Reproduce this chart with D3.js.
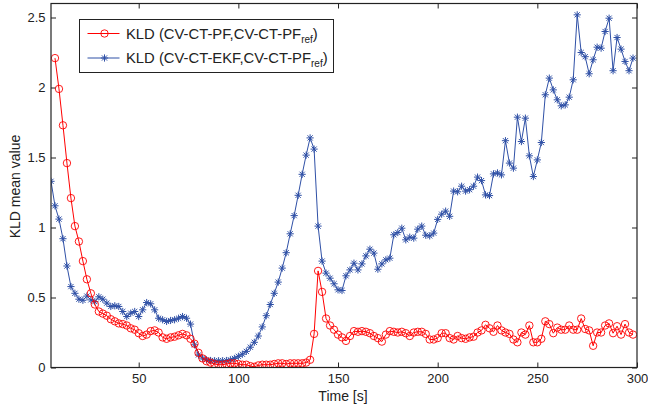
<!DOCTYPE html>
<html>
<head>
<meta charset="utf-8">
<script src="https://cdn.jsdelivr.net/npm/d3@7"></script>
<style>
  body { margin: 0; background: #fff; }
  svg { display: block; font-family: "Liberation Sans", Arial, Helvetica, sans-serif; }
</style>
</head>
<body>
<svg id="chart" width="648" height="406"></svg>
<script>
// sampling grid of the two series (seconds)
const pfTime = d3.range(8, 300, 2);
const ekfTime = d3.range(6, 300, 2);

// KLD (CV-CT-PF, CV-CT-PF_ref)
const pfValues = [
  2.21, 1.99, 1.73, 1.46, 1.21, 1.01, 0.90, 0.76, 0.63, 0.53,
  0.45, 0.40, 0.385, 0.37, 0.345, 0.33, 0.315, 0.31, 0.30, 0.28,
  0.27, 0.245, 0.225, 0.235, 0.26, 0.265, 0.25, 0.215, 0.205, 0.215,
  0.22, 0.23, 0.24, 0.23, 0.205, 0.17, 0.105, 0.065, 0.045, 0.035,
  0.025, 0.02, 0.02, 0.025, 0.03, 0.03, 0.025, 0.02, 0.02, 0.01,
  0.005, 0.015, 0.02, 0.02, 0.02, 0.025, 0.03, 0.03, 0.025, 0.03,
  0.03, 0.03, 0.03, 0.035, 0.055, 0.24, 0.69, 0.54, 0.35, 0.30,
  0.27, 0.235, 0.215, 0.19, 0.225, 0.26, 0.255, 0.26, 0.255, 0.245,
  0.225, 0.21, 0.185, 0.235, 0.26, 0.255, 0.25, 0.255, 0.245, 0.225,
  0.25, 0.255, 0.255, 0.24, 0.2, 0.2, 0.21, 0.245, 0.245, 0.21,
  0.2, 0.225, 0.21, 0.205, 0.215, 0.22, 0.25, 0.265, 0.305, 0.28,
  0.255, 0.3, 0.265, 0.25, 0.24, 0.2, 0.18, 0.25, 0.235, 0.3,
  0.18, 0.18, 0.205, 0.33, 0.31, 0.245, 0.285, 0.27, 0.27, 0.3,
  0.27, 0.27, 0.35, 0.275, 0.265, 0.155, 0.25, 0.25, 0.3, 0.315,
  0.245, 0.295, 0.235, 0.31, 0.25, 0.235
];

// KLD (CV-CT-EKF, CV-CT-PF_ref)
const ekfValues = [
  1.33, 1.155, 1.06, 0.92, 0.725, 0.578, 0.53, 0.488, 0.48, 0.51,
  0.483, 0.47, 0.505, 0.488, 0.46, 0.436, 0.441, 0.436, 0.40, 0.364,
  0.388, 0.40, 0.364, 0.412, 0.464, 0.455, 0.412, 0.352, 0.341, 0.329,
  0.336, 0.341, 0.352, 0.364, 0.352, 0.31, 0.162, 0.09, 0.067, 0.055,
  0.05, 0.048, 0.048, 0.048, 0.05, 0.055, 0.065, 0.08, 0.095, 0.115,
  0.145, 0.18, 0.225, 0.29, 0.37, 0.45, 0.53, 0.61, 0.71, 0.82,
  0.955, 1.085, 1.23, 1.38, 1.517, 1.64, 1.56, 1.01, 0.76, 0.674,
  0.638, 0.598, 0.555, 0.55, 0.655, 0.697, 0.745, 0.697, 0.74, 0.797,
  0.845, 0.817, 0.702, 0.74, 0.769, 0.781, 0.948, 0.964, 0.995, 0.912,
  0.931, 0.924, 0.988, 1.01, 0.945, 0.94, 0.96, 1.058, 1.095, 1.117,
  1.08, 1.26, 1.255, 1.295, 1.26, 1.27, 1.295, 1.36, 1.335, 1.233,
  1.228, 1.383, 1.39, 1.376, 1.62, 1.46, 1.424, 1.788, 1.614, 1.781,
  1.512, 1.364, 1.483, 1.607, 1.948, 2.067, 1.983, 1.912, 1.869, 1.876,
  1.931, 2.055, 2.519, 2.25, 2.22, 2.098, 2.198, 2.288, 2.281, 2.4,
  2.495, 2.12, 2.357, 2.274, 2.186, 2.12, 2.21
];

const xTicks = [50, 100, 150, 200, 250, 300];
const yTicks = [0, 0.5, 1, 1.5, 2, 2.5];

const RED = "#ff0000";
const BLUE = "#2f50a6";

const svg = d3.select("#chart");
const margin = {top: 3.5, right: 11, bottom: 38.5, left: 51};
const width = 648 - margin.left - margin.right;
const height = 406 - margin.top - margin.bottom;

const x = d3.scaleLinear().domain([6, 300]).range([0, width]);
const y = d3.scaleLinear().domain([0, 2.6]).range([height, 0]);

const g = svg.append("g").attr("transform", `translate(${margin.left},${margin.top})`);

g.append("clipPath").attr("id", "plotClip")
  .append("rect").attr("width", width).attr("height", height);

// axes: ticks point inwards on all four sides (box on)
function styleAxis(sel) {
  sel.select(".domain").remove();
  sel.selectAll(".tick line").attr("stroke", "#222").attr("stroke-width", 1);
  sel.selectAll(".tick text")
    .attr("fill", "#222")
    .style("font-size", "13px")
    .style("font-family", "'Liberation Sans', Arial, sans-serif");
}

g.append("g").attr("transform", `translate(0,${height})`)
  .call(d3.axisBottom(x).tickValues(xTicks).tickSizeInner(-5).tickSizeOuter(0).tickPadding(6.5))
  .call(styleAxis);
g.append("g")
  .call(d3.axisTop(x).tickValues(xTicks).tickSizeInner(-5).tickSizeOuter(0).tickFormat(""))
  .call(styleAxis);
g.append("g")
  .call(d3.axisLeft(y).tickValues(yTicks).tickSizeInner(-5).tickSizeOuter(0).tickPadding(5.5)
    .tickFormat(d => d === 0 ? "0" : String(d)))
  .call(styleAxis);
g.append("g").attr("transform", `translate(${width},0)`)
  .call(d3.axisRight(y).tickValues(yTicks).tickSizeInner(-5).tickSizeOuter(0).tickFormat(""))
  .call(styleAxis);

const plot = g.append("g").attr("clip-path", "url(#plotClip)");

const line = d3.line().x(d => x(d[0])).y(d => y(d[1]));

const pfData = pfTime.map((t, i) => [t, pfValues[i]]);
const ekfData = ekfTime.map((t, i) => [t, ekfValues[i]]);

const starPath = r => {
  const d = r * 0.72;
  return `M${-r},0L${r},0M0,${-r}L0,${r}M${-d},${-d}L${d},${d}M${-d},${d}L${d},${-d}`;
};

// EKF series first, PF drawn on top
plot.append("path").datum(ekfData)
  .attr("fill", "none").attr("stroke", BLUE).attr("stroke-width", 1)
  .attr("d", line);
plot.selectAll(".star").data(ekfData).enter().append("path")
  .attr("class", "star")
  .attr("transform", d => `translate(${x(d[0])},${y(d[1])})`)
  .attr("d", starPath(3.6))
  .attr("fill", "none").attr("stroke", BLUE).attr("stroke-width", 1);

plot.append("path").datum(pfData)
  .attr("fill", "none").attr("stroke", RED).attr("stroke-width", 1)
  .attr("d", line);
plot.selectAll(".circ").data(pfData).enter().append("circle")
  .attr("class", "circ")
  .attr("cx", d => x(d[0])).attr("cy", d => y(d[1]))
  .attr("r", 3.7)
  .attr("fill", "none").attr("stroke", RED).attr("stroke-width", 0.9);

// frame
g.append("rect").attr("width", width).attr("height", height)
  .attr("fill", "none").attr("stroke", "#222").attr("stroke-width", 1.2);

// axis titles
svg.append("text")
  .attr("x", margin.left + width / 2 - 1).attr("y", 401)
  .attr("text-anchor", "middle").attr("fill", "#222").style("font-size", "14px")
  .text("Time [s]");
svg.append("text")
  .attr("transform", `translate(20,${margin.top + height / 2 + 1}) rotate(-90)`)
  .attr("text-anchor", "middle").attr("fill", "#222").style("font-size", "14px")
  .text("KLD mean value");

// legend
const legend = svg.append("g").attr("transform", "translate(79.5,19.5)");
legend.append("rect").attr("width", 254).attr("height", 53)
  .attr("fill", "#fff").attr("stroke", "#222").attr("stroke-width", 1);

const entries = [
  {label: "KLD (CV-CT-PF,CV-CT-PF", color: RED, marker: "circle"},
  {label: "KLD (CV-CT-EKF,CV-CT-PF", color: BLUE, marker: "star"}
];
entries.forEach((e, i) => {
  const cy = 14 + i * 24.5;
  const row = legend.append("g").attr("transform", `translate(0,${cy})`);
  row.append("line").attr("x1", 8).attr("x2", 40).attr("y1", 0).attr("y2", 0)
    .attr("stroke", e.color).attr("stroke-width", 1);
  if (e.marker === "circle") {
    row.append("circle").attr("cx", 25).attr("cy", 0).attr("r", 3.7)
      .attr("fill", "none").attr("stroke", e.color).attr("stroke-width", 0.9);
  } else {
    row.append("path").attr("transform", "translate(25,0)").attr("d", starPath(3.6))
      .attr("fill", "none").attr("stroke", e.color).attr("stroke-width", 1);
  }
  const txt = row.append("text").attr("x", 46.5).attr("y", 5.2)
    .attr("fill", "#222").style("font-size", "14.8px");
  txt.append("tspan").text(e.label);
  txt.append("tspan").attr("dy", 4).style("font-size", "10px").text("ref");
  txt.append("tspan").attr("dy", -4).text(")");
});
</script>
</body>
</html>
